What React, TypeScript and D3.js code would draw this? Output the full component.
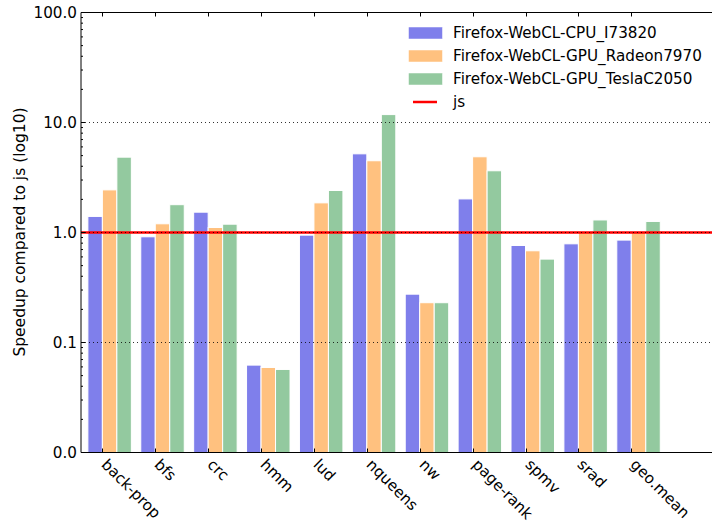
import React from "react";
import * as d3 from "d3";

const categories = ["back-prop", "bfs", "crc", "hmm", "lud", "nqueens", "nw", "page-rank", "spmv", "srad", "geo.mean"];
const seriesNames = ["Firefox-WebCL-CPU_I73820", "Firefox-WebCL-GPU_Radeon7970", "Firefox-WebCL-GPU_TeslaC2050"];
const cpuI73820 = [1.40, 0.914, 1.53, 0.0623, 0.946, 5.19, 0.275, 2.02, 0.762, 0.789, 0.853];
const gpuRadeon7970 = [2.44, 1.20, 1.11, 0.0593, 1.86, 4.49, 0.230, 4.88, 0.682, 1.01, 1.0];
const gpuTeslaC2050 = [4.84, 1.79, 1.19, 0.0569, 2.41, 11.8, 0.230, 3.64, 0.573, 1.30, 1.26];
const seriesColors = ["#7f7feb", "#ffc17f", "#93c99f"];
const yTicks = [0.01, 0.1, 1, 10, 100];
const yTickLabels = ["0.0", "0.1", "1.0", "10.0", "100.0"];
const baseline = 1.0;
const baselineName = "js";
const yLabel = "Speedup compared to js (log10)";

const W = 712;
const H = 527;
const left = 81;
const right = 712;
const top = 12.5;
const bottom = 452.5;
const FONT = "DejaVu Sans, sans-serif";
const FS_TICK = 15.2;
const FS_LABEL = 15.5;
const FS_LEG = 15.2;
const barW = 0.274;

export default function App() {
  const series = [cpuI73820, gpuRadeon7970, gpuTeslaC2050];
  const x = d3.scaleLinear().domain([-0.13, 11.8]).range([left, right]);
  const y = d3.scaleLog().domain([0.01, 100]).range([bottom, top]);
  const minor: number[] = [];
  [0.01, 0.1, 1, 10].forEach((d) => {
    for (let k = 2; k <= 9; k++) minor.push(d * k);
  });
  const bw = x(barW) - x(0);
  return (
    <svg width={W} height={H} style={{ position: "absolute", left: 0, top: 0, background: "#fff" }} fontFamily={FONT}>
      <rect x={0} y={0} width={W} height={H} fill="#fff" />
      {/* bars */}
      {series.map((vals, s) =>
        vals.map((v, i) => (
          <rect
            key={`b${s}-${i}`}
            x={x(i + s * barW)}
            y={y(v)}
            width={bw}
            height={y(0.01) - y(v)}
            fill={seriesColors[s]}
            stroke="#fff"
            strokeWidth={1}
          />
        ))
      )}
      {/* baseline */}
      <line x1={left} x2={right} y1={y(baseline)} y2={y(baseline)} stroke="#ff0000" strokeWidth={2.5} />
      {/* grid */}
      {yTicks.slice(1, 4).map((t) => (
        <line key={`g${t}`} x1={left} x2={right} y1={y(t)} y2={y(t)} stroke="#000" strokeWidth={1} strokeDasharray="1,3" opacity={0.8} />
      ))}
      {/* spines */}
      <line x1={left} x2={right} y1={top} y2={top} stroke="#000" strokeWidth={1} />
      <line x1={left} x2={right} y1={bottom} y2={bottom} stroke="#000" strokeWidth={1} />
      <line x1={left} x2={left} y1={top} y2={bottom} stroke="#000" strokeWidth={1} />
      {/* y ticks */}
      {yTicks.map((t, i) => (
        <g key={`yt${t}`}>
          <line x1={left} x2={left + 4} y1={y(t)} y2={y(t)} stroke="#000" strokeWidth={1} />
          <text x={left - 4} y={y(t)} dy="0.36em" textAnchor="end" fontSize={FS_TICK} fill="#000">
            {yTickLabels[i]}
          </text>
        </g>
      ))}
      {minor.map((t) => (
        <line key={`ym${t}`} x1={left} x2={left + 2} y1={y(t)} y2={y(t)} stroke="#000" strokeWidth={1} />
      ))}
      {/* x ticks */}
      {categories.map((c, i) => {
        const tx = Math.round(x(i + barW)) + 0.5;
        return (
          <g key={`xt${c}`}>
            <line x1={tx} x2={tx} y1={bottom} y2={bottom - 4} stroke="#000" strokeWidth={1} />
            <line x1={tx} x2={tx} y1={top} y2={top + 4} stroke="#000" strokeWidth={1} />
            <text
              transform={`translate(${tx + 6},${bottom + 5}) rotate(45)`}
              textAnchor="start"
              dominantBaseline="hanging"
              fontSize={FS_TICK}
              fill="#000"
            >
              {c}
            </text>
          </g>
        );
      })}
      {/* y label */}
      <text transform={`translate(25,232) rotate(-90)`} textAnchor="middle" fontSize={FS_LABEL} fill="#000">
        {yLabel}
      </text>
      {/* legend */}
      {seriesNames.map((n, s) => (
        <g key={`lg${s}`}>
          <rect x={408.5} y={27 + s * 23} width={34} height={12} fill={seriesColors[s]} stroke="#fff" strokeWidth={0.5} />
          <text x={453} y={33 + s * 23} dy="0.36em" fontSize={FS_LEG} fill="#000">
            {n}
          </text>
        </g>
      ))}
      <line x1={413} x2={437} y1={102} y2={102} stroke="#ff0000" strokeWidth={2.5} />
      <text x={453} y={102} dy="0.36em" fontSize={FS_LEG} fill="#000">
        {baselineName}
      </text>
    </svg>
  );
}
